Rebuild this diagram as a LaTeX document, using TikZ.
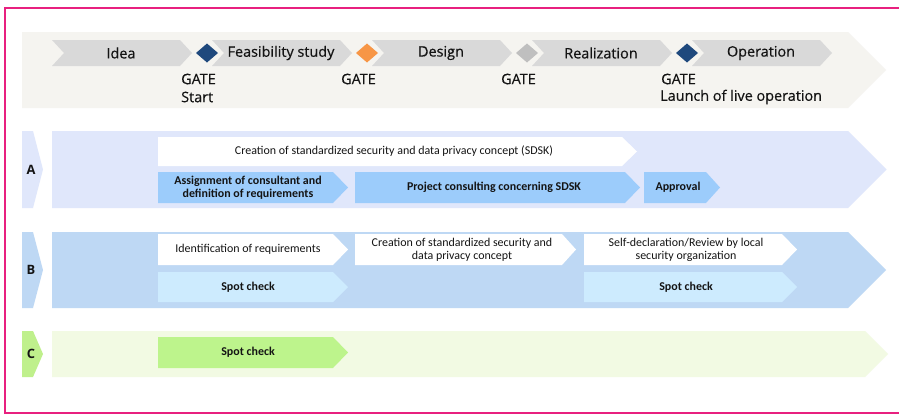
\documentclass[tikz,border=0pt]{standalone}
\usepackage{fontspec}
\setmainfont{Carlito}
\newfontfamily\headfont[FakeBold=0.5]{Open Sans}
\newfontfamily\tagfont{Open Sans}
\usepackage{tikz}
\usepackage{xcolor}

\definecolor{framepink}{HTML}{E8207F}
\definecolor{headgray}{HTML}{F5F4F0}
\definecolor{phasegray}{HTML}{D9D9D9}
\definecolor{gatenavy}{HTML}{1F497D}
\definecolor{gateorange}{HTML}{F79646}
\definecolor{gategray}{HTML}{BFBFBF}
\definecolor{laneA}{HTML}{E0E7FB}
\definecolor{boxA}{HTML}{9CCCFB}
\definecolor{laneB}{HTML}{BED8F4}
\definecolor{boxB}{HTML}{CDEBFE}
\definecolor{laneC}{HTML}{F2FAE3}
\definecolor{tagC}{HTML}{BFF08C}
\definecolor{boxC}{HTML}{BDF48C}
\definecolor{textdark}{HTML}{141414}

\begin{document}
\begin{tikzpicture}[x=0.03cm,y=-0.03cm,
    txt/.style={font=\fontsize{10.2}{11.2}\selectfont, text=textdark, align=center, inner sep=0pt},
    btxt/.style={txt, font=\fontsize{10.2}{11.2}\selectfont\bfseries},
    head/.style={font=\headfont\fontsize{12.3}{14}\selectfont, text=textdark, inner sep=0pt},
    gatetxt/.style={head, anchor=west},
    lanetag/.style={font=\tagfont\fontsize{11}{12}\selectfont\bfseries, text=textdark, inner sep=0pt}]
    \clip (0,0) rectangle (899,415);
    \fill[white] (0,0) rectangle (899,415);
    \draw[framepink, line width=2.2pt] (910,8) -- (5,8) -- (5,413) -- (910,413);

    % phases and gates
    \fill[headgray] (22,32) -- (848,32) -- (886,70) -- (848,108) -- (22,108) -- cycle;
    \foreach \name [count=\i from 0] in {Idea,Feasibility study,Design,Realization,Operation} {
        \pgfmathsetmacro\xa{52+160*\i}
        \fill[phasegray] (\xa,40) -- ({\xa+128},40) -- ({\xa+140},53) -- ({\xa+128},66) -- (\xa,66) -- ({\xa+12},53) -- cycle;
        \node[head] (phase\i) at ({\xa+69},53) {\name};
    }
    \foreach \col [count=\i from 0] in {gatenavy,gateorange,gategray,gatenavy} {
        \pgfmathsetmacro\xd{207+160*\i}
        \fill[\col] ({\xd-11},53) -- (\xd,43.5) -- ({\xd+11},53) -- (\xd,62.5) -- cycle;
        \node[gatetxt] (gate\i) at ({181+160*\i},79) {GATE};
    }
    \node[gatetxt] (gatestart) at (181,97) {Start};
    \node[gatetxt] (gatelive) at (660,97) {Launch of live operation};

    % lane A
    \fill[laneA] (22,131) -- (33,131) -- (43,169.5) -- (33,208) -- (22,208) -- cycle;
    \node[lanetag] (tagA) at (31,169.5) {A};
    \fill[laneA] (52,131) -- (848,131) -- (886.5,169.5) -- (848,208) -- (52,208) -- cycle;
    \fill[white] (158,137) -- (622,137) -- (637,151.5) -- (622,166) -- (158,166) -- cycle;
    \node[txt] (sdsk) at (394,151.5) {Creation of standardized security and data privacy concept (SDSK)};
    \fill[boxA] (158,172) -- (333,172) -- (348,187.5) -- (333,203) -- (158,203) -- cycle;
    \node[btxt] (assign) at (248,187.5) {Assignment of consultant and\\definition of requirements};
    \fill[boxA] (355,172) -- (625,172) -- (640,187.5) -- (625,203) -- (355,203) -- cycle;
    \node[btxt] (consult) at (494,187.5) {Project consulting concerning SDSK};
    \fill[boxA] (644,172) -- (706,172) -- (720,187.5) -- (706,203) -- (644,203) -- cycle;
    \node[btxt] (approval) at (678,187.5) {Approval};

    % lane B
    \fill[laneB] (22,232) -- (33,232) -- (43,270) -- (33,308) -- (22,308) -- cycle;
    \node[lanetag] (tagB) at (31,270) {B};
    \fill[laneB] (52,232) -- (848,232) -- (886,270) -- (848,308) -- (52,308) -- cycle;
    \fill[white] (158,234) -- (333,234) -- (348,249.5) -- (333,265) -- (158,265) -- cycle;
    \node[txt] (identify) at (248,249.5) {Identification of requirements};
    \fill[white] (355,234) -- (562,234) -- (576,249.5) -- (562,265) -- (355,265) -- cycle;
    \node[txt] (creation) at (462,249.5) {Creation of standardized security and\\data privacy concept};
    \fill[white] (584,234) -- (782,234) -- (797,249.5) -- (782,265) -- (584,265) -- cycle;
    \node[txt] (selfdecl) at (686,249.5) {Self-declaration/Review by local\\security organization};
    \fill[boxB] (158,272) -- (333,272) -- (348,287) -- (333,302) -- (158,302) -- cycle;
    \node[btxt] (spotB1) at (248,287) {Spot check};
    \fill[boxB] (584,272) -- (782,272) -- (797,287) -- (782,302) -- (584,302) -- cycle;
    \node[btxt] (spotB2) at (686,287) {Spot check};

    % lane C
    \fill[tagC] (22,331) -- (33,331) -- (43,354) -- (33,377) -- (22,377) -- cycle;
    \node[lanetag] (tagC) at (31,354) {C};
    \fill[laneC] (52,331) -- (865,331) -- (888,354) -- (865,377) -- (52,377) -- cycle;
    \fill[boxC] (158,337) -- (333,337) -- (348,352.5) -- (333,368) -- (158,368) -- cycle;
    \node[btxt] (spotC) at (248,352.5) {Spot check};
\end{tikzpicture}
\end{document}
